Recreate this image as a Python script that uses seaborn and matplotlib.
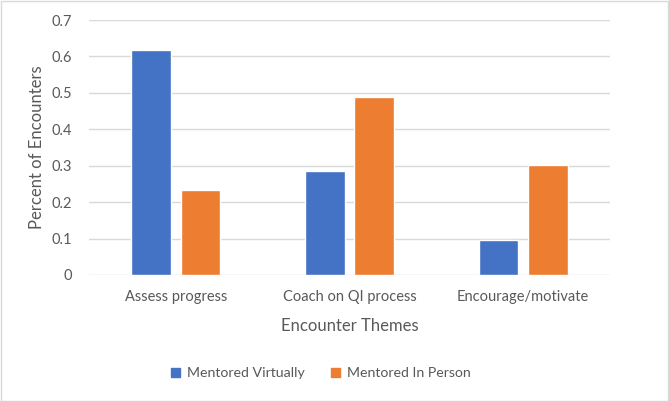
import matplotlib
matplotlib.use("Agg")
import matplotlib.pyplot as plt
import seaborn as sns
import pandas as pd
from matplotlib.patches import Rectangle

categories = ["Assess progress", "Coach on QI process", "Encourage/motivate"]
series_names = ["Mentored Virtually", "Mentored In Person"]
virtual_values = [0.618, 0.286, 0.095]
in_person_values = [0.232, 0.488, 0.302]
y_ticks = [0, 0.1, 0.2, 0.3, 0.4, 0.5, 0.6, 0.7]
y_tick_labels = ["0", "0.1", "0.2", "0.3", "0.4", "0.5", "0.6", "0.7"]
colors = ["#4472C4", "#ED7D31"]

df = pd.DataFrame({
    "Theme": categories * 2,
    "Series": [series_names[0]] * 3 + [series_names[1]] * 3,
    "Value": virtual_values + in_person_values,
})

sns.set_theme(style="white")
plt.rcParams["font.family"] = ["Lato", "DejaVu Sans"]
text_color = "#595959"

fig = plt.figure(figsize=(6.69, 4.01), dpi=100)
ax = fig.add_axes([89 / 669, 1 - 275 / 401, (610 - 89) / 669, (275 - 20) / 401])

sns.barplot(data=df, x="Theme", y="Value", hue="Series", palette=colors,
            width=0.57, gap=0.2, ax=ax, legend=False, saturation=1)

ax.set_ylim(0, 0.7)
ax.set_xlim(-0.5, 2.5)
ax.set_yticks(y_ticks)
ax.set_yticklabels(y_tick_labels)
ax.yaxis.grid(True, color="#D9D9D9", linewidth=1)
ax.set_axisbelow(True)
for s in ax.spines.values():
    s.set_visible(False)
ax.tick_params(axis="both", length=0, colors=text_color, labelsize=10.5)
ax.tick_params(axis="y", pad=12)
ax.tick_params(axis="x", pad=11)
ax.set_xlabel("Encounter Themes", fontsize=12, color=text_color, labelpad=10)
ax.set_ylabel("Percent of Encounters", fontsize=12, color=text_color, labelpad=5)

handles = [Rectangle((0, 0), 1, 1, color=c) for c in colors]
fig.legend(handles, series_names, loc="center", bbox_to_anchor=(321 / 669, 1 - 373 / 401),
           ncol=2, frameon=False, fontsize=10.2, labelcolor=text_color,
           handlelength=0.6, handleheight=0.6, handletextpad=0.5, columnspacing=1.9)

fig.patches.append(Rectangle((0.5 / 669, 0.5 / 401), 1 - 1.5 / 669, 1 - 1.5 / 401,
                             transform=fig.transFigure, fill=False,
                             edgecolor="#D9D9D9", linewidth=1))

fig.savefig("out.png", dpi=100)
